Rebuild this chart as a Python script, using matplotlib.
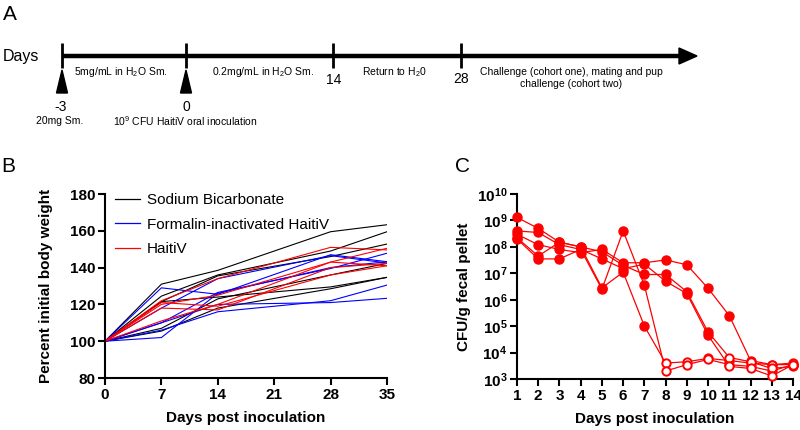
import numpy as np
import matplotlib
matplotlib.use("Agg")
import matplotlib.pyplot as plt
from matplotlib.patches import Polygon
from matplotlib.lines import Line2D
from matplotlib.ticker import FixedLocator, NullLocator

plt.rcParams['font.family'] = ['Liberation Sans', 'DejaVu Sans']
plt.rcParams['mathtext.fontset'] = 'custom'
plt.rcParams['mathtext.rm'] = 'Liberation Sans'
plt.rcParams['mathtext.bf'] = 'Liberation Sans:bold'
plt.rcParams['mathtext.it'] = 'Liberation Sans:italic'

# ---------------- Data ----------------
# Panel B: percent initial body weight
weight_days = [0, 7, 14, 28, 35]
bicarb = [
    [100, 131.0, 138.5, 159.5, 163.3],
    [100, 124.5, 136.0, 149.0, 159.5],
    [100, 121.5, 135.5, 146.0, 152.8],
    [100, 107.0, 123.0, 136.0, 142.3],
    [100, 121.5, 124.0, 129.5, 134.7],
    [100, 105.5, 118.0, 128.5, 134.7],
]
formalin = [
    [100, 129.0, 125.5, 147.0, 143.2],
    [100, 118.0, 134.0, 146.5, 142.5],
    [100, 110.0, 126.5, 139.5, 147.8],
    [100, 102.0, 126.0, 140.0, 143.2],
    [100, 106.0, 116.0, 122.0, 130.5],
    [100, 110.0, 120.0, 121.0, 123.3],
]
haitiv = [
    [100, 122.0, 134.0, 151.0, 149.6],
    [100, 120.0, 125.0, 143.0, 150.5],
    [100, 118.0, 117.0, 140.0, 142.3],
    [100, 111.0, 120.0, 143.0, 141.0],
    [100, 121.0, 119.0, 136.0, 141.0],
]
group_names = ["Sodium Bicarbonate", "Formalin-inactivated HaitiV", "HaitiV"]
group_colors = ["#000000", "#0000ff", "#ff0000"]

# Panel C: CFU/g fecal pellet
cfu_days = list(range(1, 15))
mouse1 = [1.3e9, 5e8, 1.5e8, 1e8, 2.8e6, 1.1e7, 1e5, 4e3, 4.5e3, 6e3, 5e3, 4e3, 3.5e3, 4e3]
mouse2 = [4e8, 3.5e8, 1.2e8, 8e7, 2.5e6, 4e8, 3.5e6, 2e3, 3.5e3, 5.5e3, 3.5e3, 3e3, 2e3, 3.5e3]
mouse3 = [3e8, 1.2e8, 8e7, 6e7, 8e7, 2.5e7, 2.5e7, 3.2e7, 2.1e7, 2.7e6, 2.5e5, 5e3, 3.5e3, 3.5e3]
mouse4 = [2.2e8, 4.5e7, 1.5e8, 1e8, 6.5e7, 2e7, 9e6, 9e6, 2e6, 6e4, 6.5e3, 4.5e3, 2.5e3, 3e3]
mouse5 = [2e8, 3.5e7, 3.5e7, 8e7, 3.5e7, 1.5e7, 2.2e7, 5e6, 1.7e6, 4.5e4, 3e3, 2.5e3, 1.3e3, 3.5e3]
mice = [mouse1, mouse2, mouse3, mouse4, mouse5]
first_undetected_day = [8, 8, 13, 11, 11]
cfu_exponents = [3, 4, 5, 6, 7, 8, 9, 10]

# ---------------- Figure ----------------
fig = plt.figure(figsize=(8, 4.3), dpi=100)

# Panel A: timeline schematic (pixel coordinates)
axA = fig.add_axes([0, 0, 1, 1])
axA.set_xlim(0, 800)
axA.set_ylim(430, 0)
axA.axis('off')
axA.plot([62, 682], [56, 56], color='black', lw=3.2, solid_capstyle='butt')
axA.add_patch(Polygon([[679, 48], [679, 64], [697, 56]], closed=True, color='black'))
for tx in [62, 186, 333, 461]:
    axA.plot([tx, tx], [43, 68], color='black', lw=2.0, solid_capstyle='butt')
for tx in [62, 186]:
    axA.add_patch(Polygon([[tx - 5.5, 93], [tx + 5.5, 93], [tx, 70]], closed=True, color='black'))
axA.text(3, 57, "Days", fontsize=11.5, ha='left', va='center')
axA.text(121, 72, "5mg/mL in H$_2$O Sm.", fontsize=7.5, ha='center', va='center')
axA.text(263, 72, "0.2mg/mL in H$_2$O Sm.", fontsize=7.5, ha='center', va='center')
axA.text(394, 72, "Return to H$_2$0", fontsize=7.5, ha='center', va='center')
axA.text(571, 78, "Challenge (cohort one), mating and pup\nchallenge (cohort two)",
         fontsize=7.5, ha='center', va='center', linespacing=1.15)
axA.text(334, 80, "14", fontsize=10, ha='center', va='center')
axA.text(461, 79, "28", fontsize=10, ha='center', va='center')
axA.text(61, 107, "-3", fontsize=10, ha='center', va='center')
axA.text(186, 107, "0", fontsize=10, ha='center', va='center')
axA.text(60, 121, "20mg Sm.", fontsize=7.5, ha='center', va='center')
axA.text(185, 121, "10$^9$ CFU HaitiV oral inoculation", fontsize=7.5, ha='center', va='center')
axA.text(3, 15, "A", fontsize=15, ha='left', va='center')
axA.text(1, 166, "B", fontsize=15, ha='left', va='center')
axA.text(455, 166, "C", fontsize=15, ha='left', va='center')


def style_axes(ax):
    for s in ['top', 'right']:
        ax.spines[s].set_visible(False)
    for s in ['left', 'bottom']:
        ax.spines[s].set_linewidth(1.5)
    ax.tick_params(axis='both', which='major', direction='out', length=5, width=1.5,
                   labelsize=11, pad=2)
    for lab in ax.get_xticklabels() + ax.get_yticklabels():
        lab.set_fontweight('bold')


# Panel B
axB = fig.add_axes([105 / 800, 1 - 378 / 430, 282 / 800, 184 / 430])
for grp, col in zip([bicarb, formalin, haitiv], group_colors):
    for series in grp:
        axB.plot(weight_days, series, color=col, lw=0.8)
axB.set_xlim(0, 35)
axB.set_ylim(80, 180)
axB.set_xticks([0, 7, 14, 21, 28, 35])
axB.set_yticks([80, 100, 120, 140, 160, 180])
style_axes(axB)
axB.set_xlabel("Days post inoculation", fontsize=11, fontweight='bold')
axB.set_ylabel("Percent initial body weight", fontsize=11, fontweight='bold')
axB.xaxis.set_label_coords(0.5, -0.18)
axB.yaxis.set_label_coords(-0.185, 0.5)
handles = [Line2D([0], [0], color=c, lw=0.9) for c in group_colors]
axB.legend(handles, group_names, loc='upper left', bbox_to_anchor=(0.035, 1.005), frameon=False,
           fontsize=11, handlelength=1.65, handletextpad=0.45, labelspacing=0.7,
           borderaxespad=0, borderpad=0)

# Panel C
axC = fig.add_axes([517 / 800, 1 - 379 / 430, 276 / 800, 185 / 430])
for vals, fu in zip(mice, first_undetected_day):
    axC.plot(cfu_days, vals, color='#ff0000', lw=0.9, zorder=2, clip_on=False)
    det_x = [d for d in cfu_days if d < fu]
    det_y = [v for d, v in zip(cfu_days, vals) if d < fu]
    und_x = [d for d in cfu_days if d >= fu]
    und_y = [v for d, v in zip(cfu_days, vals) if d >= fu]
    axC.plot(det_x, det_y, 'o', color='#ff0000', ms=6.5, zorder=3, clip_on=False)
    axC.plot(und_x, und_y, 'o', mfc='white', mec='#ff0000', mew=1.4, ms=6, zorder=3,
             clip_on=False)
axC.set_yscale('log')
axC.set_xlim(1, 14)
axC.set_ylim(1e3, 1e10)
axC.set_xticks(cfu_days)
axC.yaxis.set_major_locator(FixedLocator([10.0 ** e for e in cfu_exponents]))
axC.yaxis.set_minor_locator(NullLocator())
axC.set_yticklabels([r'$\mathbf{10^{%d}}$' % e for e in cfu_exponents])
style_axes(axC)
axC.set_xlabel("Days post inoculation", fontsize=11, fontweight='bold')
axC.set_ylabel("CFU/g fecal pellet", fontsize=11, fontweight='bold')
axC.xaxis.set_label_coords(0.5, -0.18)
axC.yaxis.set_label_coords(-0.165, 0.5)

fig.savefig("out.png", dpi=100)
